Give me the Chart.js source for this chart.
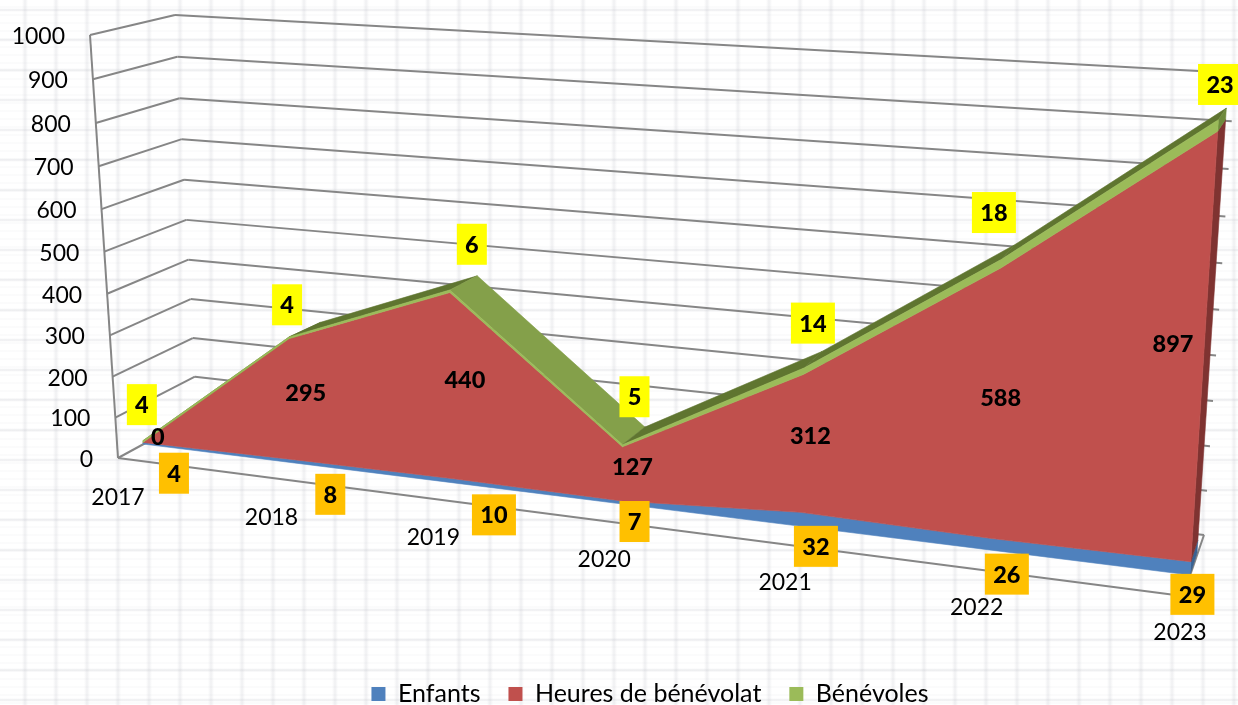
<!DOCTYPE html>
<html>
<head>
<meta charset="utf-8">
<style>
html,body{margin:0;padding:0;width:1238px;height:705px;overflow:hidden;background-color:#fff;}
body{background-image:
 repeating-linear-gradient(90deg,transparent 0 22px,rgba(190,192,200,.08) 23px,rgba(190,192,200,.24) 25px,rgba(190,192,200,.08) 27px,transparent 28px,transparent 31px),
 repeating-linear-gradient(180deg,transparent 0 8px,rgba(190,192,200,.10) 9px,rgba(190,192,200,.32) 10px,rgba(190,192,200,.10) 11px,transparent 12px,transparent 30px),
 repeating-linear-gradient(180deg,transparent 0 6px,rgba(190,192,200,.12) 7px,transparent 8px);}
canvas{display:block;position:absolute;left:0;top:0;}
</style>
</head>
<body>
<canvas id="c" width="1238" height="705"></canvas>
<script src="https://cdn.jsdelivr.net/npm/chart.js@4"></script>
<script>
const categories = ['2017','2018','2019','2020','2021','2022','2023'];
const enfants    = [4, 8, 10, 7, 32, 26, 29];
const heures     = [0, 295, 440, 127, 312, 588, 897];
const benevoles  = [4, 4, 6, 5, 14, 18, 23];

// Camera of the 3-D view: where the unit square of each depth plane lands.
const PLANES = {
  wallFront: {b0:[118,458], t0:[90,35],  b1:[1183,596], t1:[1213,104]},
  areaFront: {b0:[143,444], t0:[117,29], b1:[1190,575], t1:[1220,94]},
  areaBack:  {b0:[178,428], t0:[154,20], b1:[1197,553], t1:[1228,83]},
  wallBack:  {b0:[197,415], t0:[175,15], b1:[1204,535], t1:[1235,73]}
};
const KEY_X = -0.155, KEY_Y = 1.05;
function along(p0,p1,t){
  const d = 1 + KEY_X*t, a = (1-t)/d, b = (1+KEY_X)*t/d;
  return [p0[0]*a+p1[0]*b, p0[1]*a+p1[1]*b];
}
function project(plane,t,u){
  const P = PLANES[plane], B = along(P.b0,P.b1,t), T = along(P.t0,P.t1,t);
  const f = u/(u+(1-u)*KEY_Y);
  return [B[0]+(T[0]-B[0])*f, B[1]+(T[1]-B[1])*f];
}
const dec = (scale,v) => scale.getDecimalForPixel(scale.getPixelForValue(v));

// Hand placement of the data labels, relative to the middle of each band.
const nudgeEnfants = [[31,30],[36,33],[40,34],[12,19],[15,27],[17,30],[2,26]];
const nudgeHeures  = [[15,-6],[14,-7],[13,-7],[10,-8],[8,-8],[5,-8],[-31,-8]];
const nudgeBenev   = [[-1,-37],[-2,-33],[22,-47],[12,-49],[9,-48],[-7.5,-51],[2,-41]];

const BLUE='#4F81BD', RED='#C0504D', GREEN='#9BBB59';
const STYLE = [
  {face:BLUE,  side:'#3A6291', up:'#3A6291', down:'#4A76AC', box:'#FFC000', nudge:nudgeEnfants},
  {face:RED,   side:'#7F3331', up:'#8E3A38', down:'#A84644', box:null,      nudge:nudgeHeures},
  {face:GREEN, side:'#6E8A3C', up:'#5F7530', down:'#84A04A', box:'#FFFF00', nudge:nudgeBenev}
];
const FONT='Lato, Carlito, sans-serif';

function poly(ctx,pts,fill){
  ctx.beginPath();
  pts.forEach((p,i)=> i?ctx.lineTo(p[0],p[1]):ctx.moveTo(p[0],p[1]));
  ctx.closePath();
  ctx.fillStyle=fill; ctx.fill();
  ctx.strokeStyle=fill; ctx.lineWidth=.6; ctx.stroke();
}
function seg(ctx,a,b){ ctx.beginPath(); ctx.moveTo(a[0],a[1]); ctx.lineTo(b[0],b[1]); ctx.stroke(); }

const perspective3D = {
  id:'perspective3D',
  afterLayout(chart){
    // the legend row sits against the bottom edge, right of the centre
    const lg=chart.legend;
    lg.top+=11.5; lg.bottom+=11.5;
    lg.left+=31; lg.right+=31;
  },
  beforeDatasetsDraw(chart){
    const ctx=chart.ctx, y=chart.scales.y, x=chart.scales.x;
    ctx.save();
    ctx.strokeStyle='#868686'; ctx.lineWidth=2; ctx.lineJoin='round';
    ctx.font='23px '+FONT; ctx.fillStyle='#000';
    // value axis, walls and their tick labels
    seg(ctx,project('wallFront',0,0),project('wallFront',0,1));
    y.ticks.forEach(tk=>{
      const u=dec(y,tk.value);
      const a=project('wallFront',0,u), b=project('wallBack',0,u), c=project('wallBack',1,u);
      seg(ctx,a,b); seg(ctx,b,c);
      ctx.textAlign='right'; ctx.textBaseline='middle';
      ctx.fillStyle='#000';
      ctx.fillText(tk.label,a[0]-25,a[1]+1.5);
    });
    // floor
    seg(ctx,project('wallFront',0,0),project('wallFront',1,0));
    seg(ctx,project('wallFront',1,0),project('wallBack',1,0));
    // category labels
    ctx.textAlign='center';
    categories.forEach((lab,i)=>{
      const t=dec(x,i), p=project('wallFront',t,0);
      ctx.fillText(x.getLabelForValue(i),p[0]-3*t,p[1]+40-3*t);
    });
    // bands
    const metas=chart.data.datasets.map((d,i)=>chart.getDatasetMeta(i));
    const n=categories.length;
    const coord=(el)=>[x.getDecimalForPixel(el.x),y.getDecimalForPixel(el.y)];
    const topAt=(k,i)=>coord(metas[k].data[i]);
    const botAt=(k,i)=> k? topAt(k-1,i):[dec(x,i),dec(y,0)];
    // top surface of the stack
    const last=metas.length-1, st=STYLE[last];
    for(let i=0;i<n-1;i++){
      const a=topAt(last,i), b=topAt(last,i+1);
      poly(ctx,[project('areaFront',a[0],a[1]),project('areaFront',b[0],b[1]),
                project('areaBack',b[0],b[1]),project('areaBack',a[0],a[1])],
           b[1]>a[1]?st.up:st.down);
    }
    // right-hand side and front faces
    metas.forEach((m,k)=>{
      const a=botAt(k,n-1), b=topAt(k,n-1);
      poly(ctx,[project('areaFront',a[0],a[1]),project('areaFront',b[0],b[1]),
                project('areaBack',b[0],b[1]),project('areaBack',a[0],a[1])],STYLE[k].side);
    });
    metas.forEach((m,k)=>{
      const pts=[];
      for(let i=0;i<n;i++){const p=topAt(k,i);pts.push(project('areaFront',p[0],p[1]));}
      for(let i=n-1;i>=0;i--){const p=botAt(k,i);pts.push(project('areaFront',p[0],p[1]));}
      poly(ctx,pts,STYLE[k].face);
    });
    ctx.restore();
  },
  afterDatasetsDraw(chart){
    const ctx=chart.ctx, y=chart.scales.y, x=chart.scales.x;
    ctx.save();
    ctx.font='900 23.5px '+FONT; ctx.textAlign='center'; ctx.textBaseline='middle';
    chart.data.datasets.forEach((ds,k)=>{
      const m=chart.getDatasetMeta(k);
      ds.data.forEach((val,i)=>{
        const el=m.data[i], top=y.getDecimalForPixel(el.y);
        const bot=k?y.getDecimalForPixel(chart.getDatasetMeta(k-1).data[i].y):0;
        const p=project('areaFront',x.getDecimalForPixel(el.x),(top+bot)/2);
        const nd=STYLE[k].nudge[i], cx=p[0]+nd[0], cy=p[1]+nd[1], txt=String(val);
        if(STYLE[k].box){
          const w=txt.length>1?44:30;
          ctx.fillStyle=STYLE[k].box; ctx.fillRect(cx-w/2,cy-20.5,w,41);
        }
        ctx.fillStyle='#000'; ctx.fillText(txt,cx,cy+1);
      });
    });
    ctx.restore();
  }
};

function band(label,data,color){
  return {label,data,backgroundColor:color,borderColor:color,borderWidth:0,fill:false,showLine:false,pointRadius:0,pointHoverRadius:0};
}
new Chart(document.getElementById('c'),{
  type:'line',
  data:{labels:categories,datasets:[
    band('Enfants',enfants,BLUE),
    band('Heures de bénévolat',heures,RED),
    band('Bénévoles',benevoles,GREEN)
  ]},
  options:{
    responsive:false,animation:false,
    events:[],
    scales:{
      x:{type:'category',display:false,offset:false,stacked:true},
      y:{type:'linear',display:false,min:0,max:1000,stacked:true,ticks:{stepSize:100,callback:v=>String(v)}}
    },
    plugins:{
      tooltip:{enabled:false},
      legend:{position:'bottom',labels:{boxWidth:14,boxHeight:14,padding:28,color:'#000',font:{family:FONT,size:25}}}
    }
  },
  plugins:[perspective3D]
});
</script>
</body>
</html>
